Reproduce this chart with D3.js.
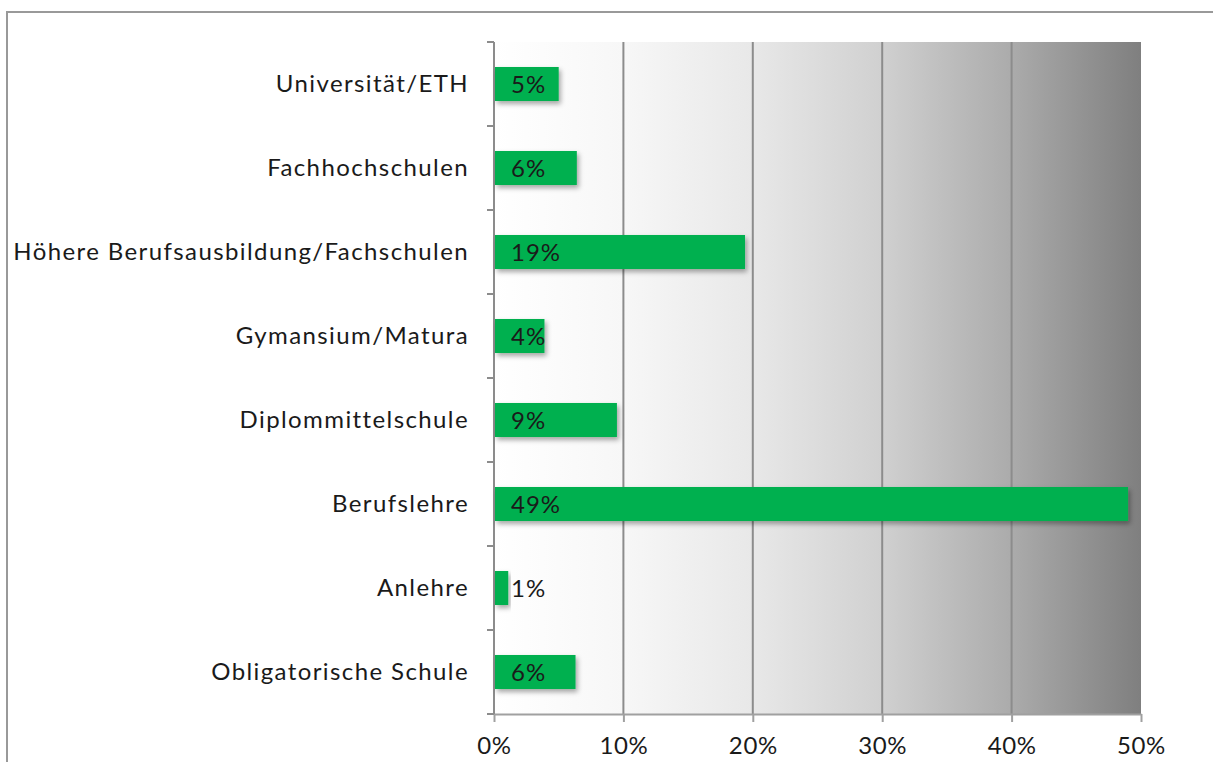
<!DOCTYPE html>
<html>
<head>
<meta charset="utf-8">
<script src="https://cdn.jsdelivr.net/npm/d3@7"></script>
<style>
  body { margin: 0; background: #fff; }
  svg text { font-family: Lato, "Noto Sans", sans-serif; fill: #1a1a1a; }
</style>
</head>
<body>
<svg class="chart"></svg>
<script>
var categories = ["Universität/ETH", "Fachhochschulen", "Höhere Berufsausbildung/Fachschulen",
  "Gymansium/Matura", "Diplommittelschule", "Berufslehre", "Anlehre", "Obligatorische Schule"];
var values = [5.0, 6.4, 19.4, 3.9, 9.5, 49.0, 1.1, 6.3];
var valueLabels = ["5%", "6%", "19%", "4%", "9%", "49%", "1%", "6%"];
var xTicks = [0, 10, 20, 30, 40, 50];

var width = 1213, height = 762;
var plotLeft = 494, plotRight = 1141, plotTop = 42, plotBottom = 714;

var svg = d3.select(".chart").attr("width", width).attr("height", height);

// outer frame (runs off the picture at right and bottom)
svg.append("rect")
  .attr("x", 7).attr("y", 12)
  .attr("width", 1230).attr("height", 780)
  .attr("fill", "none").attr("stroke", "#999").attr("stroke-width", 2);

var defs = svg.append("defs");
var grad = defs.append("linearGradient").attr("id", "bg")
  .attr("x1", "0%").attr("x2", "100%").attr("y1", "0%").attr("y2", "0%");
[[0, "#ffffff"], [0.2, "#f7f7f7"], [0.4, "#e8e8e8"], [0.6, "#d0d0d0"], [0.8, "#ababab"], [1, "#7f7f7f"]]
  .forEach(function(s) { grad.append("stop").attr("offset", s[0]).attr("stop-color", s[1]); });

var shadow = defs.append("filter").attr("id", "shadow")
  .attr("x", "-10%").attr("y", "-30%").attr("width", "130%").attr("height", "190%");
shadow.append("feDropShadow").attr("dx", 2).attr("dy", 3).attr("stdDeviation", 2.5)
  .attr("flood-color", "#000").attr("flood-opacity", 0.35);

var x = d3.scaleLinear().domain([0, 50]).range([plotLeft, plotRight]);
var y = d3.scaleBand().domain(categories).range([plotTop, plotBottom]).paddingInner(0.595).paddingOuter(0.2975);

svg.append("rect")
  .attr("x", plotLeft).attr("y", plotTop)
  .attr("width", plotRight - plotLeft).attr("height", plotBottom - plotTop)
  .attr("fill", "url(#bg)");

// gridlines
svg.append("g").selectAll("line")
  .data(xTicks.slice(1, -1))
  .enter().append("line")
    .attr("x1", function(d) { return x(d); }).attr("x2", function(d) { return x(d); })
    .attr("y1", plotTop).attr("y2", plotBottom)
    .attr("stroke", "#8c8c8c").attr("stroke-width", 2);

// x axis
var xAxis = svg.append("g")
  .attr("transform", "translate(0," + plotBottom + ")")
  .call(d3.axisBottom(x).tickValues(xTicks).tickSize(8).tickSizeOuter(0)
    .tickFormat(function(d) { return d + "%"; }));
xAxis.select(".domain").attr("stroke", "#a0a0a0").attr("stroke-width", 2);
xAxis.selectAll(".tick line").attr("stroke", "#a0a0a0").attr("stroke-width", 2);
xAxis.selectAll("text").attr("font-size", 24).attr("dy", 0).attr("y", 40)
  .attr("letter-spacing", 0.6)
  .attr("font-family", "Lato, 'Noto Sans', sans-serif").attr("fill", "#1a1a1a");

// y axis: ticks on category boundaries
var yAxis = svg.append("g").attr("transform", "translate(" + plotLeft + ",0)");
yAxis.append("line")
  .attr("x1", 0).attr("x2", 0).attr("y1", plotTop).attr("y2", plotBottom)
  .attr("stroke", "#8c8c8c").attr("stroke-width", 2);
var step = y.step();
yAxis.selectAll(".bt")
  .data(d3.range(categories.length + 1))
  .enter().append("line")
    .attr("x1", -7).attr("x2", 0)
    .attr("y1", function(i) { return plotTop + i * step; })
    .attr("y2", function(i) { return plotTop + i * step; })
    .attr("stroke", "#8c8c8c").attr("stroke-width", 2);
yAxis.selectAll("text")
  .data(categories)
  .enter().append("text")
    .attr("x", -25)
    .attr("y", function(d) { return y(d) + y.bandwidth() / 2; })
    .attr("dy", ".35em")
    .attr("text-anchor", "end")
    .attr("font-size", 24)
    .attr("letter-spacing", 1.4)
    .text(function(d) { return d; });

// bars
var bar = svg.append("g").selectAll("g")
  .data(values)
  .enter().append("g");

bar.append("rect")
  .attr("x", x(0) + 1)
  .attr("y", function(d, i) { return y(categories[i]); })
  .attr("width", function(d) { return x(d) - x(0) - 1; })
  .attr("height", y.bandwidth())
  .attr("fill", "#00b050")
  .attr("filter", "url(#shadow)");

bar.append("text")
  .attr("x", x(0) + 17)
  .attr("y", function(d, i) { return y(categories[i]) + y.bandwidth() / 2; })
  .attr("dy", ".36em")
  .attr("font-size", 24)
  .attr("letter-spacing", 1)
  .text(function(d, i) { return valueLabels[i]; });
</script>
</body>
</html>
